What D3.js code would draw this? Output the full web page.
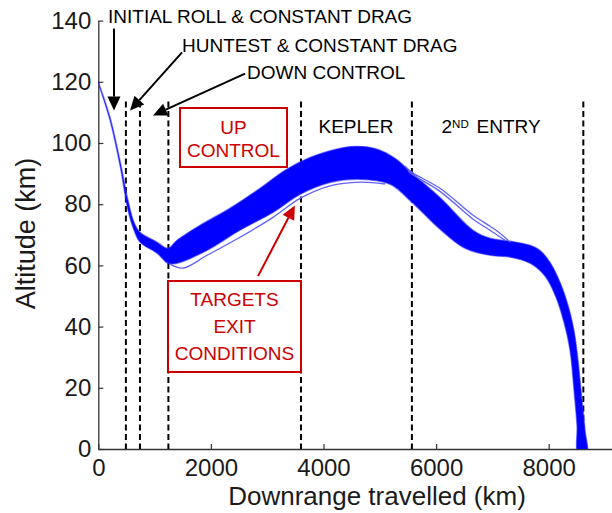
<!DOCTYPE html>
<html><head><meta charset="utf-8">
<script src="https://cdn.jsdelivr.net/npm/d3@7"></script>
<style>
html,body{margin:0;padding:0;background:#fff;}
svg{display:block;font-family:"Liberation Sans",Arial,Helvetica,sans-serif;}
</style></head><body>
<svg id="chart" width="612" height="513"></svg>
<script>
// Envelope of the dispersed skip-entry trajectories: [downrange km, altitude km]
const upperEnvelope = [
  [0,120.0],[208,108.4],[385,94.3],[528,81.3],[634,74.1],[741,70.8],[1043,67.6],
  [1238,65.6],[1398,68.2],[1806,73.1],[2339,78.7],[2872,85.2],[3316,91.1],
  [3760,95.3],[4204,97.9],[4560,98.9],[4915,98.2],[5270,95.0],[5572,90.1],
  [6069,82.2],[6656,71.5],[6958,68.9],[7314,67.9],[7668,66.6],[7845,64.9],
  [8023,61.0],[8201,54.5],[8343,47.0],[8449,38.8],[8521,29.0],[8591,16.0],
  [8645,6.2],[8680,-2]
];
const lowerEnvelope = [
  [0,119.5],[208,107.4],[385,92.7],[528,78.0],[634,71.5],[741,67.6],[1043,64.0],
  [1238,60.7],[1398,60.7],[1930,64.9],[2517,71.5],[3103,77.3],[3583,83.2],
  [4116,87.1],[4649,88.1],[5182,86.5],[5572,80.6],[6069,71.8],[6513,65.6],
  [6958,63.3],[7314,62.7],[7668,60.7],[7934,56.5],[8129,49.6],[8271,41.4],
  [8378,32.3],[8449,19.3],[8502,7.8],[8525,-2]
];
// Individual runs that leave the main bundle
const lowTrack = [
  [1274,60.4],[1504,59.1],[1931,63.3],[2517,69.2],[3103,75.7],[3583,81.9],
  [4116,86.0],[4649,87.2],[5093,86.6]
];
const highTrackA = [
  [5448,92.4],[5572,90.4],[6069,85.2],[6656,76.4],[6958,72.8],[7135,70.5],[7314,67.6]
];
const highTrackB = [
  [5500,91.0],[5572,89.8],[6069,84.2],[6656,75.1],[6958,71.5],[7224,68.2]
];
// Guidance phase boundaries (downrange km)
const phaseBoundaries = [490, 740, 1245, 3600, 5570, 8615];
const xTicks = [0, 2000, 4000, 6000, 8000];
const yTicks = [0, 20, 40, 60, 80, 100, 120, 140];
const xDomain = [0, 9200];
const yDomain = [0, 140];
const boundaryTop = 113.6;

const svg = d3.select("#chart");
const x = d3.scaleLinear().domain(xDomain).range([98.3, 98.3 + 9200 * 0.0563]);
const y = d3.scaleLinear().domain(yDomain).range([449, 20.6]);

const red = "#cc0000";
const blue = "#0000ff";

// Plot-area clip so the runs stop at ground level
svg.append("defs").append("clipPath").attr("id", "plotClip")
  .append("rect").attr("x", x(0)).attr("y", 0).attr("width", 612 - x(0)).attr("height", y(0));

// Axes
const gx = svg.append("g").attr("transform", `translate(0,${y(0)})`)
  .call(d3.axisBottom(x).tickValues(xTicks).tickFormat(d3.format("d")).tickSize(-5).tickPadding(10).tickSizeOuter(0));
const gy = svg.append("g").attr("transform", `translate(${x(0)},0)`)
  .call(d3.axisLeft(y).tickValues(yTicks).tickSize(-5).tickPadding(7).tickSizeOuter(0));
[gx, gy].forEach(g => {
  g.select(".domain").attr("stroke", "#333").attr("stroke-width", 1.3);
  g.selectAll(".tick line").attr("stroke", "#333").attr("stroke-width", 1.2);
  g.selectAll(".tick text").attr("fill", "#1a1a1a").attr("font-size", 24)
    .attr("font-family", "'Liberation Sans',Arial,sans-serif");
});

// Axis titles
svg.append("text").attr("x", 377).attr("y", 505)
  .attr("text-anchor", "middle").attr("font-size", 26).attr("fill", "#1a1a1a")
  .text("Downrange travelled (km)");
svg.append("text").attr("transform", "translate(35,233.5) rotate(-90)")
  .attr("text-anchor", "middle").attr("font-size", 27).attr("fill", "#1a1a1a")
  .text("Altitude (km)");

// Phase boundaries
svg.append("g").selectAll("line").data(phaseBoundaries).join("line")
  .attr("x1", d => x(d)).attr("x2", d => x(d))
  .attr("y1", y(boundaryTop)).attr("y2", y(0))
  .attr("stroke", "#000").attr("stroke-width", 2).attr("stroke-dasharray", "6,3.5");

// Trajectory bundle
const runs = svg.append("g").attr("clip-path", "url(#plotClip)");
const line = d3.line().x(d => x(d[0])).y(d => y(d[1])).curve(d3.curveCatmullRom.alpha(0.5));
const bandPts = upperEnvelope.concat(lowerEnvelope.slice().reverse());
runs.append("path").attr("d", line(bandPts) + "Z")
  .attr("fill", blue).attr("stroke", "rgba(40,40,255,0.55)").attr("stroke-width", 1.4)
  .attr("stroke-linejoin", "round");

[lowTrack, highTrackA, highTrackB].forEach(t => {
  runs.append("path").attr("d", line(t)).attr("fill", "none")
    .attr("stroke", "#6060ff").attr("stroke-width", 1.3);
});

// Annotations
function arrow(from, to, color) {
  const x1 = x(from[0]), y1 = y(from[1]), x2 = x(to[0]), y2 = y(to[1]);
  const ang = Math.atan2(y2 - y1, x2 - x1);
  const len = 14, hw = 6.5;
  const bx = x2 - len * Math.cos(ang), by = y2 - len * Math.sin(ang);
  svg.append("line").attr("x1", x1).attr("y1", y1).attr("x2", bx).attr("y2", by)
    .attr("stroke", color).attr("stroke-width", 2);
  const px = -Math.sin(ang) * hw, py = Math.cos(ang) * hw;
  svg.append("path").attr("d", `M${x2},${y2}L${bx + px},${by + py}L${bx - px},${by - py}Z`)
    .attr("fill", color);
}
arrow([279, 137.4], [279, 110.6], "#000");
arrow([1488, 129.6], [563, 110.6], "#000");
arrow([2606, 122.7], [972, 109.0], "#000");
arrow([2837, 56.5], [3492, 79.6], red);

const notes = svg.append("g").attr("font-size", 19).attr("fill", "#000");
notes.append("text").attr("x", 108).attr("y", 22.5).text("INITIAL ROLL & CONSTANT DRAG");
notes.append("text").attr("x", 182).attr("y", 52).text("HUNTEST & CONSTANT DRAG");
notes.append("text").attr("x", 247).attr("y", 79).text("DOWN CONTROL");
notes.append("text").attr("x", 356).attr("y", 133).attr("text-anchor", "middle").text("KEPLER");
const entry = notes.append("text").attr("y", 133);
entry.append("tspan").attr("x", 441.5).text("2");
entry.append("tspan").attr("font-size", 11.5).attr("dy", -5).text("ND");
entry.append("tspan").attr("x", 476.5).attr("dy", 5).text("ENTRY");

// Red boxes
svg.append("rect").attr("x", 180).attr("y", 108).attr("width", 107).attr("height", 59)
  .attr("fill", "#fff").attr("stroke", red).attr("stroke-width", 2);
svg.append("rect").attr("x", 168).attr("y", 281).attr("width", 133).attr("height", 91)
  .attr("fill", "#fff").attr("stroke", red).attr("stroke-width", 2);
const boxText = svg.append("g").attr("font-size", 19).attr("fill", red).attr("text-anchor", "middle");
[["UP", 233.5, 134], ["CONTROL", 233.5, 157],
 ["TARGETS", 234.5, 305.5], ["EXIT", 234.5, 332.5], ["CONDITIONS", 234.5, 360]]
  .forEach(([t, tx, ty]) => boxText.append("text").attr("x", tx).attr("y", ty).text(t));
</script>
</body></html>
